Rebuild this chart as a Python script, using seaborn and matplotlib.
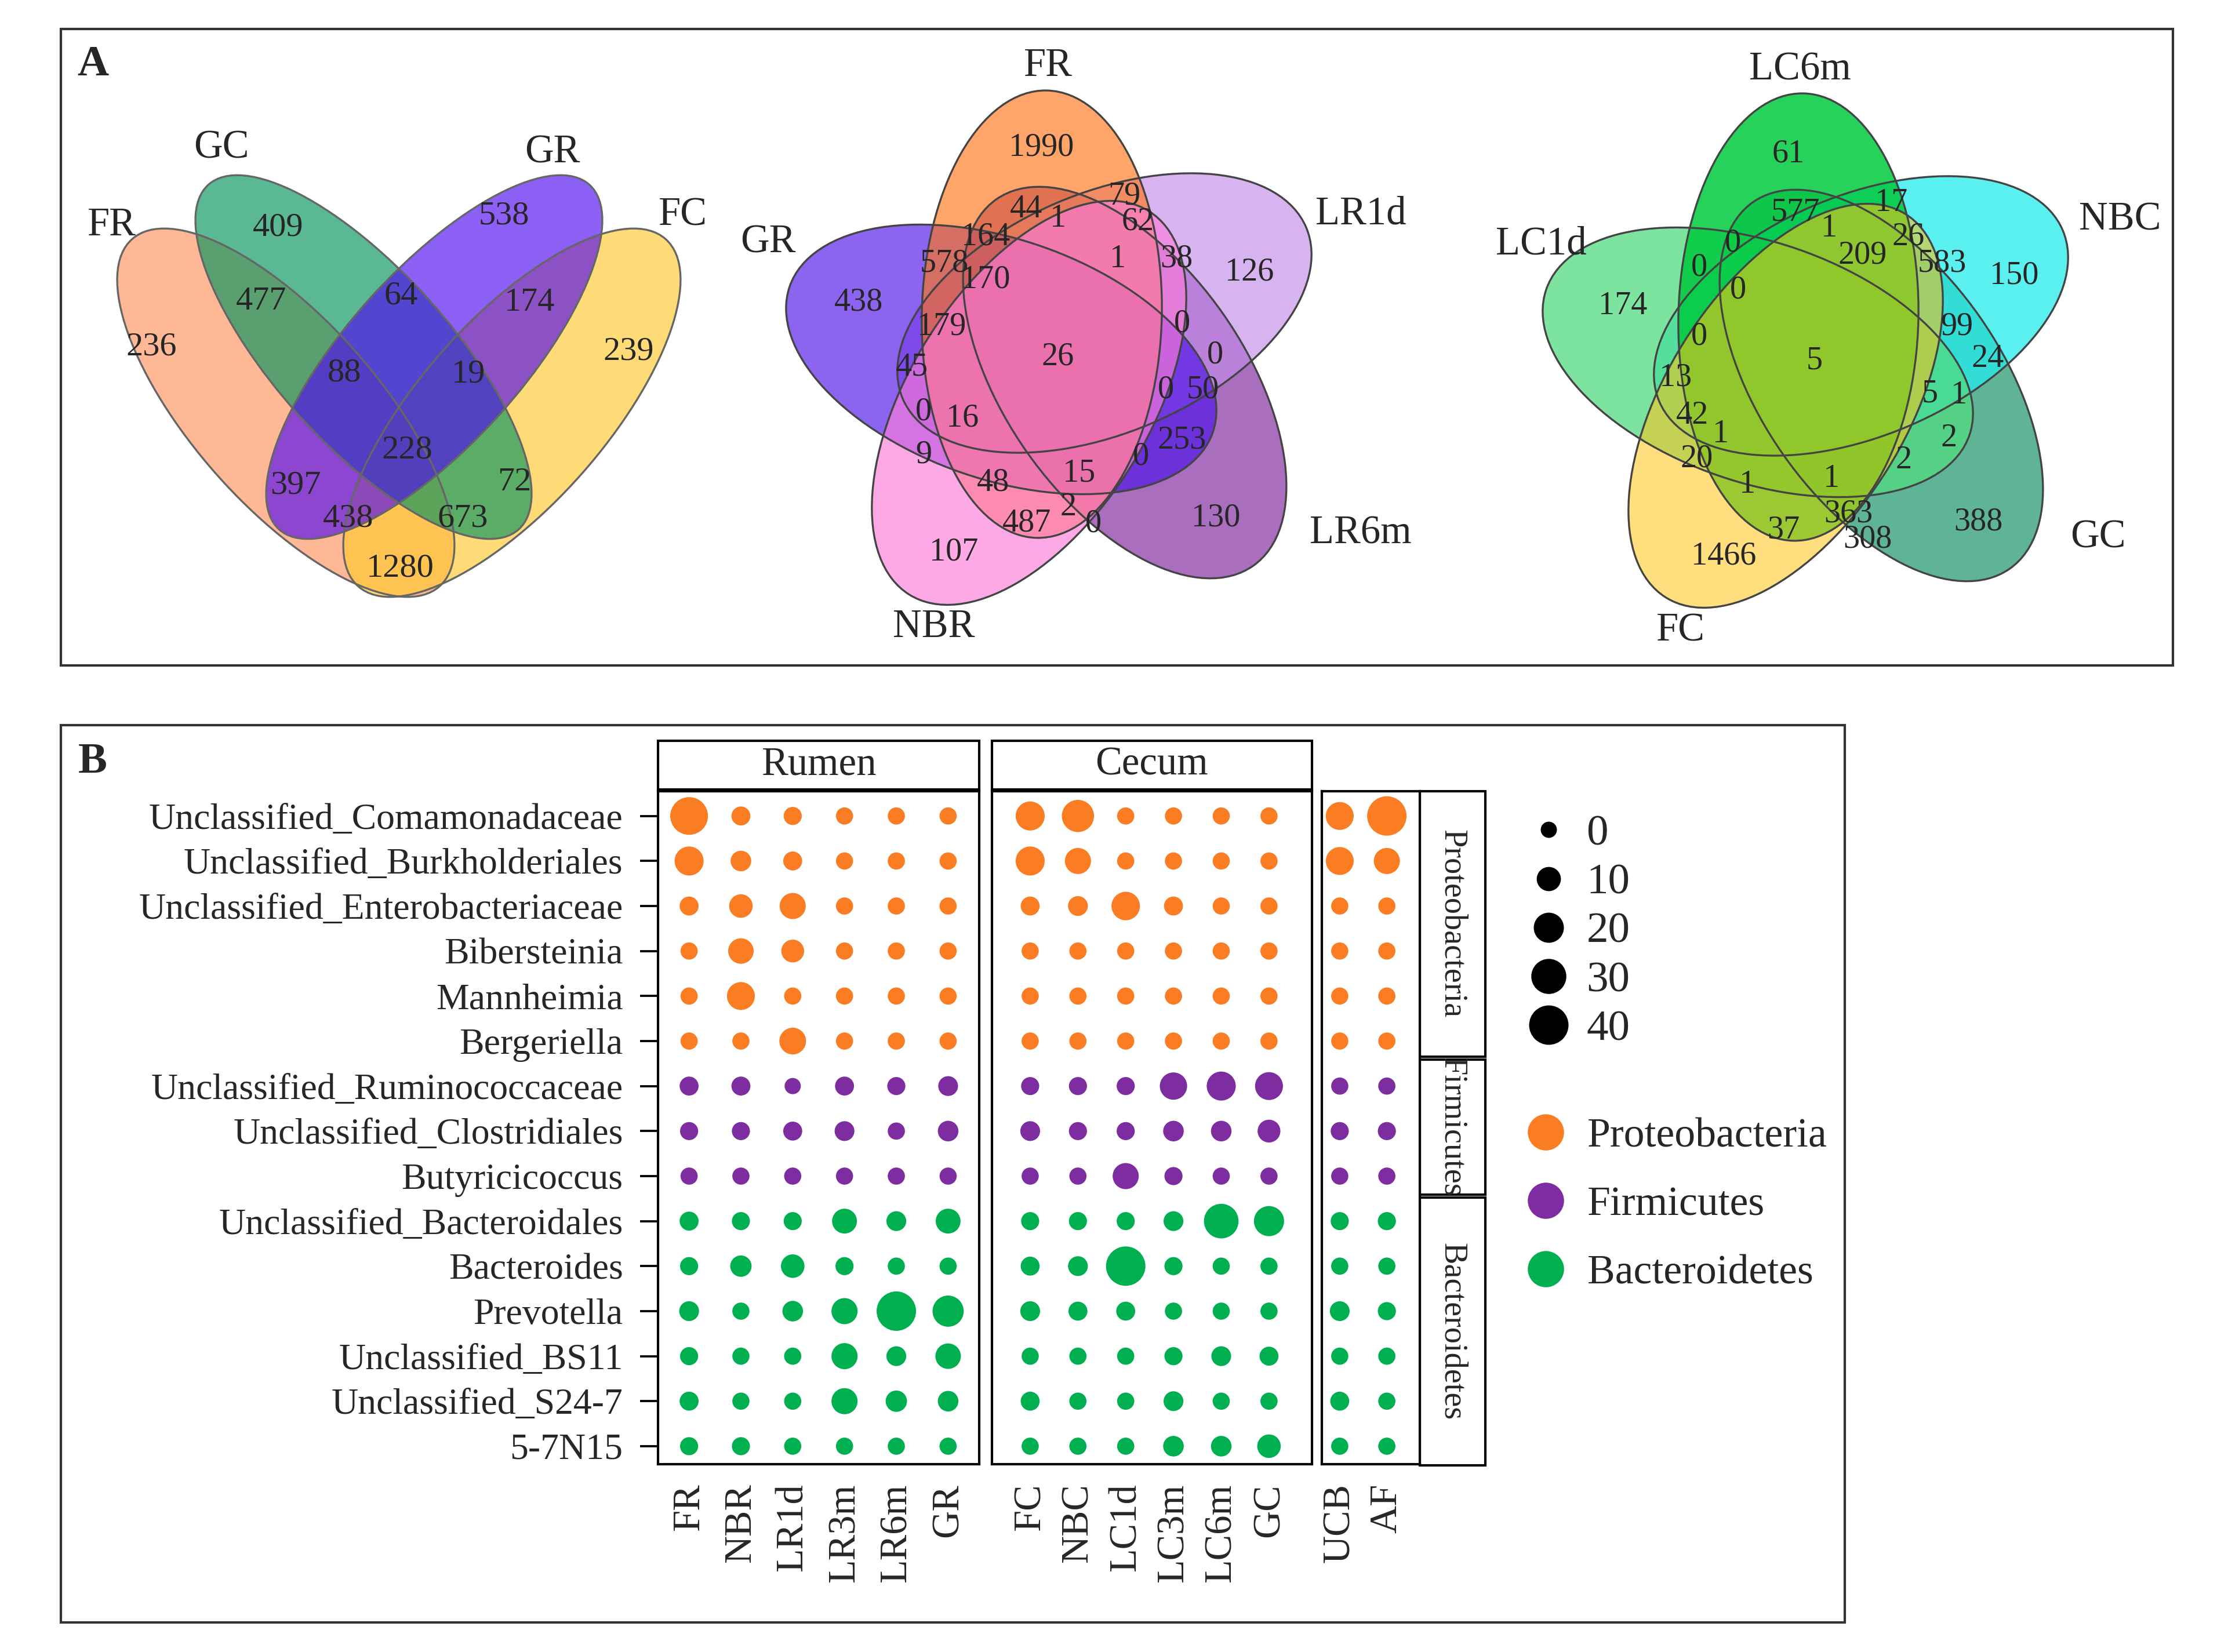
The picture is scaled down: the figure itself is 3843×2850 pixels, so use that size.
import numpy as np
import pandas as pd
import matplotlib
matplotlib.use("Agg")
import matplotlib.pyplot as plt
from matplotlib.patches import Ellipse, Rectangle
from matplotlib.lines import Line2D
import seaborn as sns

W, H, DPI = 3843, 2850, 300

# ---------------- panel B data ----------------
genera = [
    "Unclassified_Comamonadaceae", "Unclassified_Burkholderiales",
    "Unclassified_Enterobacteriaceae", "Bibersteinia", "Mannheimia",
    "Bergeriella", "Unclassified_Ruminococcaceae", "Unclassified_Clostridiales",
    "Butyricicoccus", "Unclassified_Bacteroidales", "Bacteroides", "Prevotella",
    "Unclassified_BS11", "Unclassified_S24-7", "5-7N15",
]
phyla = ["Proteobacteria"] * 6 + ["Firmicutes"] * 3 + ["Bacteroidetes"] * 6
phylum_order = ["Proteobacteria", "Firmicutes", "Bacteroidetes"]
phylum_colors = ["#FA7D23", "#7D2DA0", "#00B050"]

rumen_groups = ["FR", "NBR", "LR1d", "LR3m", "LR6m", "GR"]
cecum_groups = ["FC", "NBC", "LC1d", "LC3m", "LC6m", "GC"]
other_groups = ["UCB", "AF"]

# relative abundance (%) per genus (rows) and group (columns)
rumen_abund = [
    [36, 3, 2, 1, 1, 1],
    [18, 5, 3, 1, 1, 1],
    [3, 9, 13, 1, 1, 1],
    [1, 12, 8, 1, 1, 1],
    [1, 16, 1, 1, 1, 1],
    [1, 1, 14, 1, 1, 1],
    [3, 3, 0, 3, 2, 4],
    [2, 2, 3, 4, 1, 5],
    [1, 1, 1, 1, 1, 1],
    [3, 2, 2, 11, 4, 11],
    [2, 6, 9, 2, 1, 1],
    [4, 1, 5, 13, 45, 22],
    [2, 1, 1, 13, 4, 12],
    [3, 1, 1, 13, 6, 5],
    [2, 2, 1, 1, 1, 1],
]
cecum_abund = [
    [18, 24, 1, 1, 1, 1],
    [18, 13, 1, 1, 1, 1],
    [3, 4, 17, 3, 1, 1],
    [1, 1, 1, 1, 1, 1],
    [1, 1, 1, 1, 1, 1],
    [1, 1, 1, 1, 1, 1],
    [2, 2, 2, 15, 18, 16],
    [4, 2, 2, 5, 5, 8],
    [1, 1, 13, 2, 1, 1],
    [2, 2, 2, 4, 29, 20],
    [3, 4, 43, 2, 1, 1],
    [4, 3, 3, 1, 1, 1],
    [1, 1, 1, 2, 4, 3],
    [3, 1, 1, 4, 1, 1],
    [1, 1, 1, 5, 5, 9],
]
other_abund = [
    [16, 44], [16, 13], [1, 1], [1, 1], [1, 1], [1, 1], [1, 1], [2, 2],
    [1, 1], [2, 2], [1, 1], [4, 2], [1, 1], [3, 1], [1, 1],
]
legend_sizes = [0, 10, 20, 30, 40]

# ---------------- panel A data ----------------
venn4_sets = ["FR", "GC", "GR", "FC"]
venn4_counts = [236, 409, 477, 64, 538, 174, 239, 88, 19, 228, 397, 72, 438, 673, 1280]

venn5r_sets = ["FR", "LR1d", "LR6m", "NBR", "GR"]
venn5r_counts = [1990, 44, 79, 62, 164, 1, 578, 170, 1, 38, 126, 438, 179, 26, 0,
                 45, 0, 0, 16, 0, 50, 9, 253, 0, 48, 15, 2, 0, 487, 107, 130]

venn5c_sets = ["LC6m", "NBC", "GC", "FC", "LC1d"]
venn5c_counts = [61, 577, 17, 1, 26, 0, 209, 583, 150, 0, 0, 174, 99, 0, 5, 24,
                 13, 5, 1, 42, 1, 2, 20, 2, 1, 1, 363, 388, 37, 308, 1466]

# ---------------- layout (figure pixels) ----------------
venn4_shapes = [(493, 712, 400, 160, 48.5), (627, 616, 400, 150, 48),
                (749, 616, 400, 150, -48), (883, 712, 400, 160, -48.5)]
venn4_fill = ["#FF935D", "#01935D", "#4E09F0", "#FFC92F"]
venn4_alpha = [0.65] * 4
venn4_draw = [0, 3, 1, 2]
venn4_label_xy = [(192, 389), (382, 256), (953, 264), (1177, 372)]
venn4_count_xy = [(261, 598), (480, 392), (451, 520), (692, 510), (869, 372),
                  (914, 522), (1084, 606), (594, 643), (808, 645), (702, 776),
                  (510, 837), (887, 832), (601, 894), (798, 894), (690, 980)]

venn5_shapes = [(1797, 542, 386, 207, -88.7), (1905, 540, 378, 207, -23),
                (1940, 660, 386, 207, 55), (1775, 695, 390, 207, 122),
                (1727, 620, 386, 207, 19)]
venn5r_fill = ["#FF7518", "#C28CE8", "#7C209B", "#FB7CD9", "#4E11E8"]
venn5r_alpha = [0.65] * 5
venn5r_draw = [2, 1, 4, 0, 3]
venn5r_label_xy = [(1807, 114), (2347, 370), (2347, 921), (1611, 1082), (1325, 419)]
venn5r_count_xy = [(1796, 254), (1770, 361), (1939, 338), (1963, 382), (1700, 408),
                   (1825, 377), (1629, 454), (1700, 482), (1928, 447), (2029, 446),
                   (2155, 469), (1481, 521), (1624, 563), (1825, 615), (2039, 558),
                   (1573, 633), (2096, 612), (1593, 710), (1660, 721), (2011, 672),
                   (2075, 672), (1593, 784), (2039, 759), (1968, 787), (1713, 832),
                   (1861, 816), (1843, 875), (1886, 903), (1771, 902), (1645, 952),
                   (2097, 893)]

venn5c_offset = (1305, 5)
venn5c_fill = ["#00CA3D", "#23EBEB", "#2A9B73", "#FFC313", "#52DB80"]
venn5c_alpha = [0.85, 0.75, 0.75, 0.55, 0.75]
venn5c_draw = [2, 1, 4, 0, 3]
venn5c_label_xy = [(3105, 121), (3657, 380), (3619, 928), (2898, 1089), (2658, 422)]
venn5c_count_xy = [(3085, 265), (3097, 366), (3262, 350), (3155, 394), (3292, 408),
                   (2989, 419), (3213, 440), (3350, 454), (3474, 475), (2931, 461),
                   (2998, 500), (2799, 528), (3375, 563), (2931, 580), (3130, 622),
                   (3429, 619), (2890, 651), (3329, 679), (3379, 682), (2919, 717),
                   (2968, 749), (3362, 756), (2927, 791), (3284, 794), (3014, 836),
                   (3159, 826), (3188, 886), (3412, 900), (3076, 914), (3221, 930),
                   (2973, 959)]

SIZE_RANGE = (45, 266)
SIZE_NORM = (0, 40)


def area_for(v):
    """Marker area used by seaborn's linear size mapping."""
    frac = (v - SIZE_NORM[0]) / (SIZE_NORM[1] - SIZE_NORM[0])
    return SIZE_RANGE[0] + frac * (SIZE_RANGE[1] - SIZE_RANGE[0])


def frac_box(x0, y0, x1, y1):
    return [x0 / W, 1 - y1 / H, (x1 - x0) / W, (y1 - y0) / H]


def block_frame(values, groups):
    df = pd.DataFrame(values, index=genera, columns=groups)
    long = df.reset_index(names="Genus").melt(
        id_vars="Genus", var_name="Group", value_name="Abundance")
    long["Phylum"] = long["Genus"].map(dict(zip(genera, phyla)))
    long["Genus"] = pd.Categorical(long["Genus"], categories=genera)
    long["Group"] = pd.Categorical(long["Group"], categories=groups)
    return long


def draw_venn(ax, shapes, fills, alphas, order, offset=(0, 0), edge="#555555"):
    for i in order:
        cx, cy, a, b, ang = shapes[i]
        ax.add_patch(Ellipse((cx + offset[0], cy + offset[1]), 2 * a, 2 * b,
                             angle=ang, facecolor=fills[i], alpha=alphas[i],
                             edgecolor="none"))
    for i in order:
        cx, cy, a, b, ang = shapes[i]
        ax.add_patch(Ellipse((cx + offset[0], cy + offset[1]), 2 * a, 2 * b,
                             angle=ang, facecolor="none", edgecolor=edge, lw=0.8))


def write_counts(ax, counts, xy, size=13.5):
    for n, (x, y) in zip(counts, xy):
        ax.text(x, y, str(n), ha="center", va="center", fontsize=size)


def write_sets(ax, names, xy, size=16.5):
    for name, (x, y) in zip(names, xy):
        ax.text(x, y, name, ha="center", va="center", fontsize=size)


sns.set_theme(style="white")
plt.rcParams["font.family"] = ["Liberation Serif", "DejaVu Serif"]

fig = plt.figure(figsize=(W / DPI, H / DPI), dpi=DPI)
fig.patch.set_facecolor("white")

bg = fig.add_axes([0, 0, 1, 1])
bg.set_xlim(0, W)
bg.set_ylim(H, 0)
bg.axis("off")

# panel frames and letters
bg.add_patch(Rectangle((105, 50), 3643, 1098, fill=False, ec="#333333", lw=1.0))
bg.add_patch(Rectangle((105, 1251), 3077, 1548, fill=False, ec="#333333", lw=1.0))
bg.text(160, 112, "A", fontsize=18, fontweight="bold", ha="center", va="center")
bg.text(160, 1315, "B", fontsize=18, fontweight="bold", ha="center", va="center")

# ---- panel A: Venn diagrams ----
draw_venn(bg, venn4_shapes, venn4_fill, venn4_alpha, venn4_draw, edge="#666666")
write_counts(bg, venn4_counts, venn4_count_xy, size=14)
write_sets(bg, venn4_sets, venn4_label_xy)

draw_venn(bg, venn5_shapes, venn5r_fill, venn5r_alpha, venn5r_draw, edge="#444444")
write_counts(bg, venn5r_counts, venn5r_count_xy)
write_sets(bg, venn5r_sets, venn5r_label_xy)

draw_venn(bg, venn5_shapes, venn5c_fill, venn5c_alpha, venn5c_draw,
          offset=venn5c_offset, edge="#444444")
write_counts(bg, venn5c_counts, venn5c_count_xy)
write_sets(bg, venn5c_sets, venn5c_label_xy)

# ---- panel B: dot plot ----
blocks = [
    (rumen_abund, rumen_groups, (1135, 1365, 1689, 2526), (-0.6, 5.6)),
    (cecum_abund, cecum_groups, (1711, 1365, 2263, 2526), (-0.8, 5.9)),
    (other_abund, other_groups, (2280, 1365, 2449, 2526), (-0.38, 1.7)),
]
palette = dict(zip(phylum_order, phylum_colors))
for k, (values, groups, box, xlim) in enumerate(blocks):
    ax = fig.add_axes(frac_box(*box))
    data = block_frame(values, groups)
    sns.scatterplot(data=data, x="Group", y="Genus", hue="Phylum",
                    hue_order=phylum_order, palette=palette, size="Abundance",
                    sizes=SIZE_RANGE, size_norm=SIZE_NORM, linewidth=0,
                    legend=False, ax=ax)
    ax.set_xlim(*xlim)
    ax.set_ylim(len(genera) - 1 + 0.4, -0.55)
    ax.set_xlabel("")
    ax.set_ylabel("")
    for side in ax.spines.values():
        side.set_color("black")
        side.set_linewidth(1.0)
    ax.tick_params(axis="x", bottom=False, length=0, pad=8, labelsize=16,
                   labelrotation=90)
    if k == 0:
        ax.tick_params(axis="y", left=True, length=7.5, width=0.9, color="black",
                       pad=7, labelsize=15.3)
    else:
        ax.tick_params(axis="y", left=False, labelleft=False)

# facet strips
for (x0, x1, name) in [(1135, 1689, "Rumen"), (1711, 2263, "Cecum")]:
    bg.add_patch(Rectangle((x0, 1278), x1 - x0, 84, fill=False, ec="black", lw=1.0))
    bg.text((x0 + x1) / 2, 1320, name, ha="center", va="center", fontsize=16.5)
for (y0, y1, name) in [(1365, 1823, "Proteobacteria"), (1828, 2061, "Firmicutes"),
                       (2066, 2528, "Bacteroidetes")]:
    bg.add_patch(Rectangle((2449, y0), 113, y1 - y0, fill=False, ec="black", lw=1.0))
    bg.text(2505, (y0 + y1) / 2, name, ha="center", va="center", fontsize=13.5,
            rotation=-90)

# legends
size_handles = [Line2D([0], [0], marker="o", linestyle="", markerfacecolor="black",
                       markeredgewidth=0, markersize=np.sqrt(area_for(v)))
                for v in legend_sizes]
fig.legend(size_handles, [str(v) for v in legend_sizes], loc="upper left",
           bbox_to_anchor=(2633 / W, 1 - 1405 / H), frameon=False, fontsize=18,
           handlelength=1.0, handletextpad=0.38, labelspacing=0.21,
           borderpad=0, borderaxespad=0)
hue_handles = [Line2D([0], [0], marker="o", linestyle="", markerfacecolor=c,
                      markeredgewidth=0, markersize=15) for c in phylum_colors]
fig.legend(hue_handles, phylum_order, loc="upper left",
           bbox_to_anchor=(2630 / W, 1 - 1928 / H), frameon=False, fontsize=17.2,
           handlelength=1.0, handletextpad=0.5, labelspacing=0.74,
           borderpad=0, borderaxespad=0)

fig.savefig("out.png", dpi=DPI, facecolor="white")
